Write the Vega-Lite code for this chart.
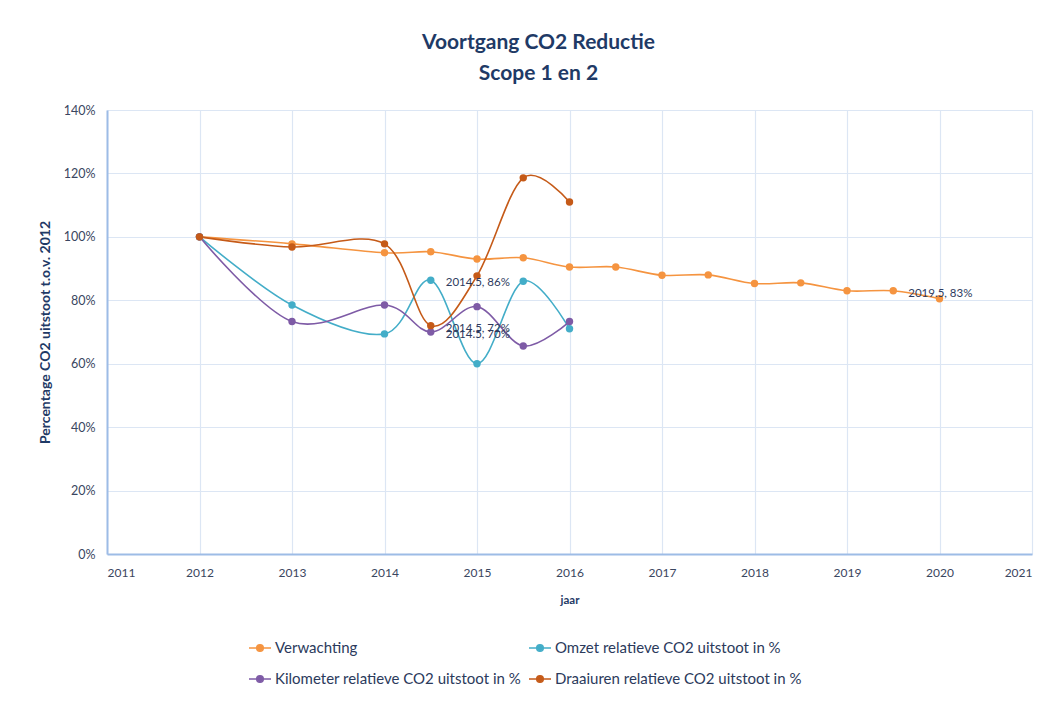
{
  "$schema": "https://vega.github.io/schema/vega-lite/v6.json",
  "width": 925,
  "height": 444,
  "autosize": {"type": "none"},
  "padding": {"left": 107, "top": 110, "right": 24, "bottom": 148},
  "background": "white",
  "title": {
    "text": ["Voortgang CO2 Reductie", "Scope 1 en 2"],
    "font": "Lato",
    "fontSize": 21,
    "fontWeight": "bold",
    "color": "#1F3A66",
    "lineHeight": 31,
    "anchor": "middle",
    "dx": -31,
    "offset": 20
  },
  "config": {
    "view": {"stroke": null},
    "font": "Lato"
  },
  "data": {
    "values": [
      {"serie": "Verwachting", "jaar": 2012, "waarde": 1.0},
      {"serie": "Verwachting", "jaar": 2013, "waarde": 0.978},
      {"serie": "Verwachting", "jaar": 2014, "waarde": 0.95},
      {"serie": "Verwachting", "jaar": 2014.5, "waarde": 0.953},
      {"serie": "Verwachting", "jaar": 2015, "waarde": 0.93},
      {"serie": "Verwachting", "jaar": 2015.5, "waarde": 0.934},
      {"serie": "Verwachting", "jaar": 2016, "waarde": 0.905},
      {"serie": "Verwachting", "jaar": 2016.5, "waarde": 0.905},
      {"serie": "Verwachting", "jaar": 2017, "waarde": 0.879},
      {"serie": "Verwachting", "jaar": 2017.5, "waarde": 0.88},
      {"serie": "Verwachting", "jaar": 2018, "waarde": 0.853},
      {"serie": "Verwachting", "jaar": 2018.5, "waarde": 0.855},
      {"serie": "Verwachting", "jaar": 2019, "waarde": 0.83},
      {"serie": "Verwachting", "jaar": 2019.5, "waarde": 0.83, "label": "2019.5, 83%"},
      {"serie": "Verwachting", "jaar": 2020, "waarde": 0.805},
      {"serie": "Omzet relatieve CO2 uitstoot in %", "jaar": 2012, "waarde": 1.0},
      {"serie": "Omzet relatieve CO2 uitstoot in %", "jaar": 2013, "waarde": 0.785},
      {"serie": "Omzet relatieve CO2 uitstoot in %", "jaar": 2014, "waarde": 0.694},
      {"serie": "Omzet relatieve CO2 uitstoot in %", "jaar": 2014.5, "waarde": 0.863, "label": "2014.5, 86%"},
      {"serie": "Omzet relatieve CO2 uitstoot in %", "jaar": 2015, "waarde": 0.6},
      {"serie": "Omzet relatieve CO2 uitstoot in %", "jaar": 2015.5, "waarde": 0.86},
      {"serie": "Omzet relatieve CO2 uitstoot in %", "jaar": 2016, "waarde": 0.71},
      {"serie": "Kilometer relatieve CO2 uitstoot in %", "jaar": 2012, "waarde": 1.0},
      {"serie": "Kilometer relatieve CO2 uitstoot in %", "jaar": 2013, "waarde": 0.733},
      {"serie": "Kilometer relatieve CO2 uitstoot in %", "jaar": 2014, "waarde": 0.785},
      {"serie": "Kilometer relatieve CO2 uitstoot in %", "jaar": 2014.5, "waarde": 0.70, "label": "2014.5, 70%"},
      {"serie": "Kilometer relatieve CO2 uitstoot in %", "jaar": 2015, "waarde": 0.78},
      {"serie": "Kilometer relatieve CO2 uitstoot in %", "jaar": 2015.5, "waarde": 0.656},
      {"serie": "Kilometer relatieve CO2 uitstoot in %", "jaar": 2016, "waarde": 0.733},
      {"serie": "Draaiuren relatieve CO2 uitstoot in %", "jaar": 2012, "waarde": 1.0},
      {"serie": "Draaiuren relatieve CO2 uitstoot in %", "jaar": 2013, "waarde": 0.968},
      {"serie": "Draaiuren relatieve CO2 uitstoot in %", "jaar": 2014, "waarde": 0.978},
      {"serie": "Draaiuren relatieve CO2 uitstoot in %", "jaar": 2014.5, "waarde": 0.72, "label": "2014.5, 72%"},
      {"serie": "Draaiuren relatieve CO2 uitstoot in %", "jaar": 2015, "waarde": 0.877},
      {"serie": "Draaiuren relatieve CO2 uitstoot in %", "jaar": 2015.5, "waarde": 1.186},
      {"serie": "Draaiuren relatieve CO2 uitstoot in %", "jaar": 2016, "waarde": 1.11}
    ]
  },
  "encoding": {
    "x": {
      "field": "jaar",
      "type": "quantitative",
      "scale": {"domain": [2011, 2021], "nice": false, "zero": false},
      "axis": {
        "title": "jaar",
        "values": [2011, 2012, 2013, 2014, 2015, 2016, 2017, 2018, 2019, 2020, 2021],
        "format": "d",
        "labelFont": "Lato",
        "labelFontSize": 12,
        "labelColor": "#3A4660",
        "labelPadding": 13,
        "ticks": false,
        "domainColor": "#9DBCE6",
        "domainWidth": 2,
        "gridColor": "#DCE6F4",
        "gridWidth": 1.2,
        "titleFont": "Lato",
        "titleFontSize": 11.5,
        "titleFontWeight": "bold",
        "titleColor": "#1F3A66",
        "titlePadding": 16
      }
    },
    "y": {
      "field": "waarde",
      "type": "quantitative",
      "scale": {"domain": [0, 1.4], "nice": false},
      "axis": {
        "title": "Percentage CO2 uitstoot t.o.v. 2012",
        "values": [0, 0.2, 0.4, 0.6, 0.8, 1.0, 1.2, 1.4],
        "format": ".0%",
        "labelFont": "Lato",
        "labelFontSize": 12.5,
        "labelColor": "#3A4660",
        "labelPadding": 12,
        "ticks": false,
        "domainColor": "#9DBCE6",
        "domainWidth": 2,
        "gridColor": "#DCE6F4",
        "gridWidth": 1.2,
        "titleFont": "Lato",
        "titleFontSize": 14,
        "titleFontWeight": "bold",
        "titleColor": "#1F3A66",
        "titlePadding": 11
      }
    },
    "color": {
      "field": "serie",
      "type": "nominal",
      "scale": {
        "domain": [
          "Verwachting",
          "Kilometer relatieve CO2 uitstoot in %",
          "Omzet relatieve CO2 uitstoot in %",
          "Draaiuren relatieve CO2 uitstoot in %"
        ],
        "range": ["#F59440", "#7E5BA6", "#43ADC8", "#C55A18"]
      },
      "legend": {
        "title": null,
        "orient": "none",
        "legendX": 141,
        "legendY": 526,
        "columns": 2,
        "columnPadding": 4,
        "rowPadding": 11,
        "symbolType": "M-1,0H1M-0.3,0A0.3,0.3,0,1,0,0.3,0A0.3,0.3,0,1,0,-0.3,0",
        "symbolSize": 484,
        "symbolStrokeWidth": 1.5,
        "labelFont": "Lato",
        "labelFontSize": 15,
        "labelColor": "#2B3A5C",
        "labelLimit": 400,
        "labelOffset": 3,
        "encode": {
          "symbols": {
            "update": {
              "fill": {"scale": "color", "field": "value"},
              "stroke": {"scale": "color", "field": "value"}
            }
          }
        }
      }
    }
  },
  "layer": [
    {
      "mark": {"type": "line", "interpolate": "cardinal", "strokeWidth": 1.6}
    },
    {
      "mark": {"type": "point", "filled": true, "size": 55, "opacity": 1}
    },
    {
      "transform": [{"filter": "isValid(datum.label)"}],
      "mark": {
        "type": "text",
        "align": "left",
        "baseline": "middle",
        "dx": 15,
        "dy": 3,
        "font": "Lato",
        "fontSize": 11.5,
        "color": "#2E3B5E"
      },
      "encoding": {
        "text": {"field": "label"},
        "color": {"value": "#2E3B5E"}
      }
    }
  ]
}
